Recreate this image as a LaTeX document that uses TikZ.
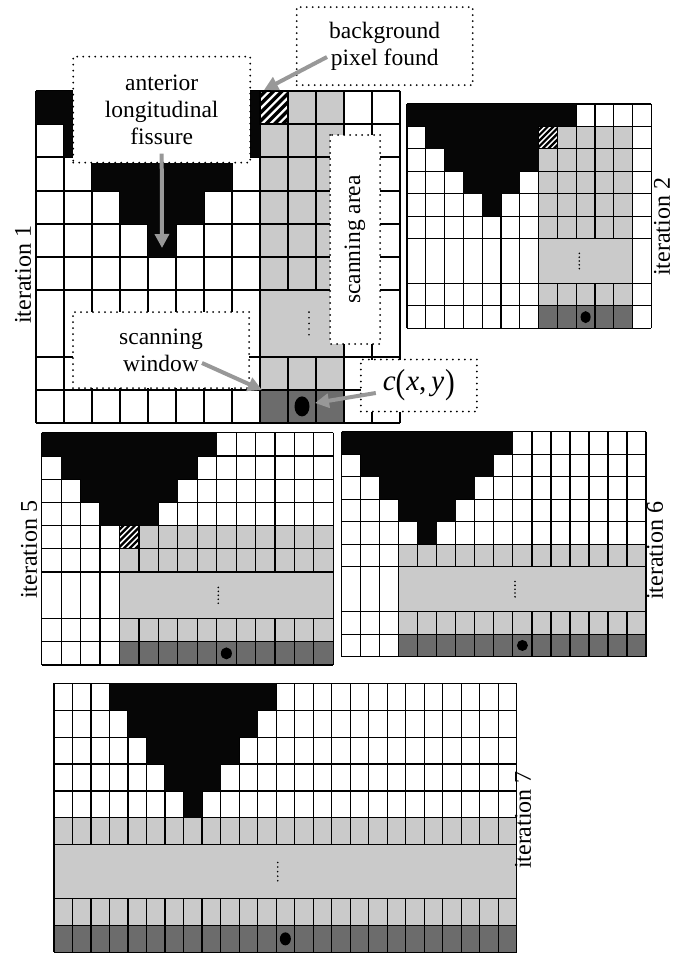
\documentclass[tikz,border=0pt]{standalone}
\usepackage{fontspec}
\usepackage{graphicx}
\setmainfont{Liberation Serif}
\usetikzlibrary{arrows.meta}
\definecolor{lgray}{RGB}{202,202,202}
\definecolor{dgray}{RGB}{108,108,108}
\definecolor{agray}{RGB}{152,152,152}
\definecolor{cblack}{RGB}{6,6,6}

\pgfkeys{/sg/.is family,/sg/.cd,
  x/.store in=\sgx, y/.store in=\sgy, w/.store in=\sgw, h/.store in=\sgh,
  n/.store in=\sgn, apex/.store in=\sga, L/.store in=\sgL, R/.store in=\sgR,
  g/.store in=\sgg, hatch/.store in=\sghatch, lw/.store in=\sglw,
  dotc/.store in=\sgdotc, dotw/.store in=\sgdotw, doth/.store in=\sgdoth,
  ex/.store in=\sgex}

\newcommand\scangrid[1]{%
  \pgfkeys{/sg/.cd,#1}%
  \begin{scope}[shift={(\sgx,\sgy)}]
    \fill[white] (0,0) rectangle ({\sgn*\sgw},{10*\sgh});
    \fill[lgray] ({\sgL*\sgw},{\sgg*\sgh}) rectangle ({(\sgR+1)*\sgw},{9*\sgh});
    \ifnum\sghatch=1
      \fill[lgray] ({(\sgL+1)*\sgw},{(\sgg-1)*\sgh}) rectangle ({(\sgR+1)*\sgw},{\sgg*\sgh});
    \fi
    \fill[dgray] ({\sgL*\sgw},{9*\sgh}) rectangle ({(\sgR+1)*\sgw},{10*\sgh});
    \foreach \rr in {0,...,6,8,9,10}
      \draw[line width=\sglw pt] (0,{\rr*\sgh}) -- ({\sgn*\sgw},{\rr*\sgh});
    \foreach \cc in {0,...,\sgn}{
      \pgfmathtruncatemacro\inside{(\cc>\sgL)*(\cc<\sgR+1)}
      \ifnum\inside=1
        \draw[line width=\sglw pt] ({\cc*\sgw},0) -- ({\cc*\sgw},{6*\sgh});
        \draw[line width=\sglw pt] ({\cc*\sgw},{8*\sgh}) -- ({\cc*\sgw},{10*\sgh});
      \else
        \draw[line width=\sglw pt] ({\cc*\sgw},0) -- ({\cc*\sgw},{10*\sgh});
      \fi}
    \foreach \rr in {0,...,4}
      \fill[cblack] ({(\sga-4+\rr)*\sgw},{\rr*\sgh}) rectangle ({(\sga+5-\rr)*\sgw},{(\rr+1)*\sgh});
    \ifnum\sghatch=1
      \pgfmathsetmacro\hlw{0.12*\sgw}
      \begin{scope}
        \clip ({\sgL*\sgw},{(\sgg-1)*\sgh}) rectangle ++(\sgw,\sgh);
        \fill[white] ({\sgL*\sgw},{(\sgg-1)*\sgh}) rectangle ++(\sgw,\sgh);
        \foreach \k in {-8,...,8}
          \draw[line width=\hlw pt] ({(\sgL+0.5)*\sgw+\k*0.3*\sgw-\sgh},{(\sgg+0.5)*\sgh}) -- ++({2*\sgh},{-2*\sgh});
      \end{scope}
      \draw[line width=\sglw pt] ({\sgL*\sgw},{(\sgg-1)*\sgh}) rectangle ++(\sgw,\sgh);
    \fi
    \foreach \k in {-2,...,2}
      \fill ({\sgex},{7*\sgh+\k*0.17*\sgh}) circle (0.9);
    \fill[black] ({(\sgdotc+0.5)*\sgw},{9.5*\sgh}) ellipse ({\sgdotw} and {\sgdoth});
  \end{scope}}

\newcommand\tallpar[1]{\raisebox{-0.12em}{\scalebox{1}[1.2]{#1}}}

\tikzset{
  note/.style={draw, fill=white, dash pattern=on 0pt off 6pt, line cap=round,
    line width=2pt, align=center, inner sep=0pt,
    font=\fontsize{23.5}{27}\selectfont},
  itlabel/.style={rotate=90, inner sep=0pt, font=\fontsize{24}{27}\selectfont},
  garrow/.style={draw=agray, line width=4pt, -{Triangle[length=14pt,width=14pt]}}
}

\begin{document}
\begin{tikzpicture}[x=1pt,y=-1pt]
\useasboundingbox (0,0) rectangle (688,955);

\scangrid{x=36,y=91,w=28,h=33.2,n=13,apex=4,L=8,R=10,g=1,hatch=1,lw=2,dotc=9,dotw=7.5,doth=10,ex=273}
\scangrid{x=407,y=104,w=18.8,h=22.43,n=13,apex=4,L=7,R=11,g=2,hatch=1,lw=1.2,dotc=9,dotw=5,doth=6,ex=172.3}
\scangrid{x=41.7,y=432.7,w=19.44,h=23.23,n=15,apex=4,L=4,R=14,g=5,hatch=1,lw=1.2,dotc=9,dotw=5.5,doth=6,ex=176.6}
\scangrid{x=341.7,y=431.7,w=19.02,h=22.5,n=16,apex=4,L=3,R=15,g=5,hatch=0,lw=1.2,dotc=9,dotw=5.5,doth=5.5,ex=173.3}
\scangrid{x=54,y=683.3,w=18.51,h=26.9,n=25,apex=7,L=0,R=24,g=5,hatch=0,lw=1.2,dotc=12,dotw=5.5,doth=6.5,ex=223.7}

% annotation boxes
\node[note, minimum width=177pt, minimum height=106pt] (fis) at (161.7,109.7) {anterior\\longitudinal\\fissure};
\node[note, minimum width=176pt, minimum height=78pt] (bg) at (384.7,46.2) {background\\pixel found};
\node[note, rotate=90, minimum width=209pt, minimum height=50pt] (area) at (355,239.5) {scanning area};
\node[note, minimum width=176pt, minimum height=76pt] (win) at (161,350) {scanning\\window};
\node[note, minimum width=116pt, minimum height=52pt, font=\fontsize{29}{30}\selectfont] (cxy) at (418.8,385.5) {\textit{c}\tallpar{(}\kern1pt\textit{x},\,\textit{y}\kern1pt\tallpar{)}};

% targets
\coordinate (hatchtip) at (264,90);
\coordinate (apextip) at (162,248);
\coordinate (wintip) at (262,390);
\coordinate (dottip) at (315,403);

% arrows
\draw[garrow] ([shift={(31.3,10.8)}]bg.west) -- (hatchtip);
\draw[garrow] ([shift={(0,-10)}]fis.south) -- (apextip);
\draw[garrow] ([shift={(41,13)}]win.center) -- (wintip);
\draw[garrow] ([shift={(16,7.5)}]cxy.west) -- (dottip);

% labels
\node[itlabel] (it1) at (23,275) {iteration 1};
\node[itlabel] (it2) at (662,227) {iteration 2};
\node[itlabel] (it5) at (29,550) {iteration 5};
\node[itlabel] (it6) at (655,551) {iteration 6};
\node[itlabel] (it7) at (523,820) {iteration 7};
\end{tikzpicture}
\end{document}
